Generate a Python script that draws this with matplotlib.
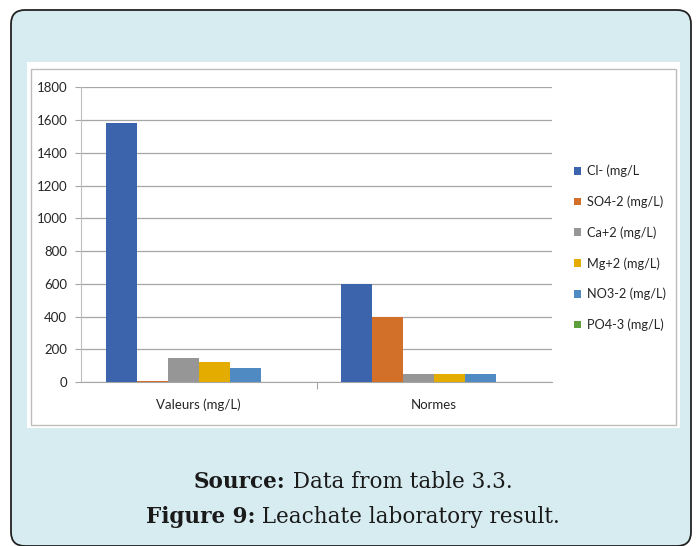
import numpy as np
import matplotlib
matplotlib.use("Agg")
import matplotlib.pyplot as plt
from matplotlib.patches import FancyBboxPatch, Rectangle

categories = ["Valeurs (mg/L)", "Normes"]
series = ["Cl- (mg/L", "SO4-2 (mg/L)", "Ca+2 (mg/L)", "Mg+2 (mg/L)", "NO3-2 (mg/L)", "PO4-3 (mg/L)"]
cl = [1580, 600]
so4 = [5, 400]
ca = [145, 50]
mg = [125, 50]
no3 = [85, 50]
po4 = [0, 0]
colors = ["#3c64ad", "#d2702a", "#969696", "#e5ac00", "#4f8bc2", "#5f9e3c"]
yticks = [0, 200, 400, 600, 800, 1000, 1200, 1400, 1600, 1800]

W, H = 696, 546
fig = plt.figure(figsize=(W / 100, H / 100), dpi=100)

# background frame (pixel coords)
bg = fig.add_axes([0, 0, 1, 1], zorder=0)
bg.set_xlim(0, W)
bg.set_ylim(H, 0)
bg.axis("off")
bg.add_patch(FancyBboxPatch((11, 10), 680, 536, boxstyle="round,pad=0,rounding_size=14",
                            facecolor="#d7ecf1", edgecolor="#222222", lw=1.3))
bg.add_patch(Rectangle((27, 62), 653, 366, facecolor="white", edgecolor="none"))
bg.add_patch(Rectangle((31, 69), 645, 356, facecolor="none", edgecolor="#bdbdbd", lw=1))

# chart
ax = fig.add_axes([81 / W, 1 - 382 / H, (552 - 81) / W, (382 - 87.3) / H], zorder=1)
values = [cl, so4, ca, mg, no3, po4]
x = np.arange(len(categories))
w = 0.1316
for i, (vals, c, lab) in enumerate(zip(values, colors, series)):
    ax.bar(x + (i - 2.5) * w, vals, width=w, color=c, label=lab, zorder=3)

ax.set_xlim(-0.5, 1.5)
ax.set_ylim(0, 1800)
ax.set_yticks(yticks)
ax.yaxis.grid(True, color="#a6a6a6", lw=0.9)
ax.set_axisbelow(True)
for s in ["top", "right"]:
    ax.spines[s].set_visible(False)
ax.spines["left"].set_color("#bfbfbf")
ax.spines["bottom"].set_color("#a6a6a6")
ax.tick_params(axis="y", length=4, color="#a6a6a6", labelsize=9.5, labelcolor="#262626", pad=6)
ax.set_xticks([0.5])
ax.set_xticklabels([""])
ax.set_xticks(x, minor=True)
ax.set_xticklabels(categories, minor=True)
ax.tick_params(axis="x", which="major", length=5, color="#a6a6a6")
ax.tick_params(axis="x", which="minor", length=0, labelsize=9.5, labelcolor="#262626", pad=12)
for t in ax.get_xticklabels(minor=True) + ax.get_yticklabels():
    t.set_family("Lato")

leg = ax.legend(loc="upper left", bbox_to_anchor=(568 / W, 1 - 158.5 / H), bbox_transform=fig.transFigure,
                frameon=False, handlelength=0.55, handleheight=0.55, handletextpad=0.4,
                labelspacing=1.42, borderpad=0, prop={"family": "Lato", "size": 9.2})
for t in leg.get_texts():
    t.set_color("#262626")

# caption
r = fig.canvas.get_renderer()
def caption(bold, rest, y):
    tb = bg.text(0, y, bold, fontsize=15.5, fontweight="bold", family="DejaVu Serif", va="center", color="#1a1a1a")
    tr = bg.text(0, y, rest, fontsize=15.5, family="DejaVu Serif", va="center", color="#1a1a1a")
    wb = tb.get_window_extent(r).width
    wr = tr.get_window_extent(r).width
    x0 = 353 - (wb + wr) / 2
    tb.set_x(x0)
    tr.set_x(x0 + wb)

caption("Source:", " Data from table 3.3.", 482)
caption("Figure 9:", " Leachate laboratory result.", 517)

fig.savefig("out.png", dpi=100)
